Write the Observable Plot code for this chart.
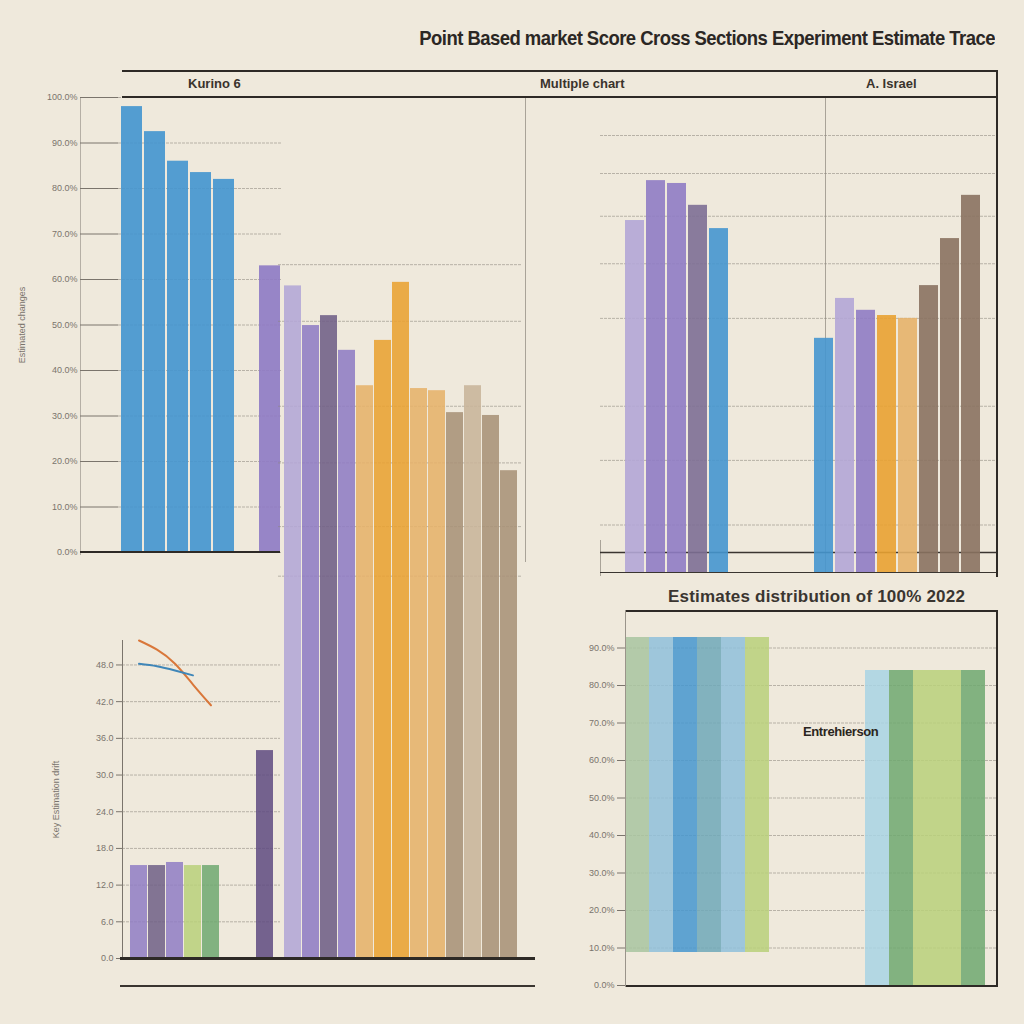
<!DOCTYPE html>
<html><head><meta charset="utf-8">
<script src="https://cdn.jsdelivr.net/npm/d3@7"></script>
<script src="https://cdn.jsdelivr.net/npm/@observablehq/plot@0.6"></script>
<style>
html,body{margin:0;padding:0;background:#efe9dc;}
#root{position:relative;width:1024px;height:1024px;background:#efe9dc;overflow:hidden;font-family:"Liberation Sans",Arial,sans-serif;}
.ln{position:absolute;}
.txt{position:absolute;white-space:nowrap;color:#2a2622;}
</style></head>
<body><div id="root"></div>
<script>
// ---------- text ----------
const mainTitle = "Point Based market Score Cross Sections Experiment Estimate Trace";
const panelTitles = ["Kurino 6", "Multiple chart", "A. Israel"];
const lowerTitle = "Estimates distribution of 100% 2022";
const lowerNote = "Entrehierson";
const axisLabelA = "Estimated changes";
const axisLabelD = "Key Estimation drift";

// ---------- palette (series names) ----------
const seriesNames  = ["Cobalt","Lilac","Iris","Mauve","Dusk","Ink","Amber","Apricot","Umber","Fawn","Sand","Sky","Lagoon","Sage","Citron","Fern","Mist"];
const seriesColors = ["#4596cf","#b3a6d6","#8f7cc4","#6f5f86","#7d6f95","#5e4a80","#e9a232","#e6b26a","#8a7260","#a89278","#c8b49a","#8fc0da","#6fa8b8","#a8c4a0","#b9d07a","#6fa870","#a8d4e4"];

// ---------- panel A: top-left ----------
const aDomain = ["A1","A2","A3","A4","A5","·","A6"];
const aCats   = ["A1","A2","A3","A4","A5","A6"];
const aValues = [98, 92.5, 86, 83.5, 82, 63];
const aSeries = ["Cobalt","Cobalt","Cobalt","Cobalt","Cobalt","Iris"];
const aTicks  = [0, 10, 20, 30, 40, 50, 60, 70, 80, 90, 100];

// ---------- panel B: middle ----------
const bCats   = ["B1","B2","B3","B4","B5","B6","B7","B8","B9","B10","B11","B12","B13"];
const bValues = [95, 89.4, 90.8, 85.9, 80.9, 87.3, 95.5, 80.5, 80.2, 77.1, 80.9, 76.7, 68.9];
const bSeries = ["Lilac","Iris","Mauve","Iris","Apricot","Amber","Amber","Apricot","Apricot","Fawn","Sand","Fawn","Fawn"];
const bGrid   = [98, 90, 78, 70, 61, 54];

// ---------- panel C: top-right ----------
const cDomain = ["C1","C2","C3","C4","C5","·1","·2","·3","·4","C6","C7","C8","C9","C10","C11","C12","C13"];
const cCats   = ["C1","C2","C3","C4","C5","C6","C7","C8","C9","C10","C11","C12","C13"];
const cValues = [74.1, 82.5, 81.9, 77.3, 72.4, 49.3, 57.7, 55.2, 54.1, 53.5, 60.4, 70.3, 79.4];
const cSeries = ["Lilac","Iris","Iris","Dusk","Cobalt","Cobalt","Lilac","Iris","Amber","Apricot","Umber","Umber","Umber"];
const cGrid   = [92, 84, 75, 65, 53.5, 35, 23.6, 10];

// ---------- panel D: bottom-left ----------
const dDomain = ["D1","D2","D3","D4","D5","·1","·2","D6"];
const dCats   = ["D1","D2","D3","D4","D5","D6"];
const dValues = [15.2, 15.2, 15.7, 15.2, 15.2, 34.0];
const dSeries = ["Iris","Mauve","Iris","Citron","Fern","Ink"];
const dLineCats  = ["D1","D2","D3","D4","D5"];
const dLineOrange = [52, 50.5, 48.2, 44.8, 41.4];
const dLineBlue   = [48.2, 47.8, 47.1, 46.3];
const dTicks = [0, 6, 12, 18, 24, 30, 36, 42, 48];

// ---------- panel E: bottom-right ----------
const eDomain = ["E1","E2","E3","E4","E5","E6","·1","·2","·3","·4","E7","E8","E9","E10","E11"];
const eCats   = ["E1","E2","E3","E4","E5","E6","E7","E8","E9","E10","E11"];
const eLow    = [8.8, 8.8, 8.8, 8.8, 8.8, 8.8, 0, 0, 0, 0, 0];
const eHigh   = [92.8, 92.8, 92.8, 92.8, 92.8, 92.8, 84, 84, 84, 84, 84];
const eSeries = ["Sage","Sky","Cobalt","Lagoon","Sky","Citron","Mist","Fern","Citron","Citron","Fern"];
const eTicks  = [0, 10, 20, 30, 40, 50, 60, 70, 80, 90];

// ---------- helpers ----------
const root = document.getElementById("root");
function place(el, left, top) {
  el.style.position = "absolute"; el.style.left = left + "px"; el.style.top = top + "px";
  root.appendChild(el); return el;
}
function line(left, top, w, h, color) {
  const d = document.createElement("div"); d.className = "ln";
  d.style.left = left + "px"; d.style.top = top + "px"; d.style.width = w + "px"; d.style.height = h + "px";
  d.style.background = color; root.appendChild(d);
}
function text(str, left, top, css) {
  const d = document.createElement("div"); d.className = "txt"; d.textContent = str;
  d.style.left = left + "px"; d.style.top = top + "px"; Object.assign(d.style, css || {});
  root.appendChild(d); return d;
}
const color = {type: "ordinal", domain: seriesNames, range: seriesColors};
const baseStyle = {background: "transparent", fontFamily: "Liberation Sans, Arial, sans-serif", fontSize: "9px", color: "#7a746c", overflow: "visible"};
const gridStyle = {stroke: "#8a857c", strokeOpacity: 0.55, strokeDasharray: "3,1"};
const rows = (cats, vals, series) => cats.map((c, i) => ({cat: c, value: vals[i], series: series[i]}));

// ---------- background frame lines (behind plots) ----------
line(80, 97, 1, 458, "#b5afa5");
line(525, 97, 1, 465, "#a9a398");
line(825, 97, 1, 476, "#a9a398");
line(600, 540, 1, 36, "#a9a398");

// ---------- panel A ----------
place(Plot.plot({
  width: 290, height: 475, marginTop: 7, marginBottom: 13, marginLeft: 118, marginRight: 8,
  style: baseStyle,
  x: {domain: aDomain, axis: null, paddingInner: 0.1, paddingOuter: 0},
  y: {domain: [0, 100], ticks: aTicks, tickSize: 38, tickFormat: d => d.toFixed(1) + "%", label: axisLabelA, labelAnchor: "center", labelOffset: 100, labelArrow: "none"},
  color,
  marks: [
    Plot.gridY(aTicks, gridStyle),
    Plot.barY(rows(aCats, aValues, aSeries), {x: "cat", y: "value", fill: "series", fillOpacity: 0.92})
  ]
}), 0, 90);

// ---------- panel B ----------
place(Plot.plot({
  width: 255, height: 728, marginTop: 10, marginBottom: 10, marginLeft: 3, marginRight: 8,
  style: baseStyle,
  x: {domain: bCats, axis: null, paddingInner: 0.06, paddingOuter: 0},
  y: {domain: [0, 100], axis: null},
  color,
  marks: [
    Plot.gridY(bGrid, gridStyle),
    Plot.barY(rows(bCats, bValues, bSeries), {x: "cat", y: "value", fill: "series", fillOpacity: 0.88})
  ]
}), 275, 240);

// ---------- panel C ----------
place(Plot.plot({
  width: 400, height: 490, marginTop: 7, marginBottom: 8, marginLeft: 20, marginRight: 14,
  style: baseStyle,
  x: {domain: cDomain, axis: null, paddingInner: 0.08, paddingOuter: 0},
  y: {domain: [0, 100], axis: null},
  color,
  marks: [
    Plot.gridY(cGrid, {...gridStyle, insetLeft: -20, insetRight: -11}),
    Plot.ruleY([4.2], {stroke: "#3a3530", strokeWidth: 1.5, insetLeft: -20, insetRight: -11}),
    Plot.barY(rows(cCats, cValues, cSeries), {x: "cat", y: "value", fill: "series", fillOpacity: 0.9}),
    Plot.ruleY([0], {stroke: "#3a3530", strokeWidth: 1, insetLeft: -20, insetRight: -11})
  ]
}), 600, 90);

// ---------- panel D ----------
place(Plot.plot({
  width: 265, height: 345, marginTop: 15, marginBottom: 12, marginLeft: 102, marginRight: 5,
  style: baseStyle,
  x: {domain: dDomain, axis: null, paddingInner: 0.06, paddingOuter: 0.35},
  y: {domain: [0, 52], ticks: dTicks, line: true, tickSize: 6, tickFormat: d => d.toFixed(1), label: axisLabelD, labelAnchor: "center", labelOffset: 70, labelArrow: "none"},
  color,
  marks: [
    Plot.gridY(dTicks, gridStyle),
    Plot.barY(rows(dCats, dValues, dSeries), {x: "cat", y: "value", fill: "series", fillOpacity: 0.85}),
    Plot.line(dLineOrange.map((v, i) => ({cat: dLineCats[i], value: v})), {x: "cat", y: "value", stroke: "#d9773a", strokeWidth: 2, curve: "natural"}),
    Plot.line(dLineBlue.map((v, i) => ({cat: dLineCats[i], value: v})), {x: "cat", y: "value", stroke: "#3f86b8", strokeWidth: 2, curve: "natural"})
  ]
}), 20, 625);

// ---------- panel E ----------
place(Plot.plot({
  width: 470, height: 385, marginTop: 5, marginBottom: 5, marginLeft: 95, marginRight: 15,
  style: baseStyle,
  x: {domain: eDomain, axis: null, padding: 0},
  y: {domain: [0, 100], ticks: eTicks, tickSize: 8, tickFormat: d => d.toFixed(1) + "%"},
  color,
  marks: [
    Plot.gridY(eTicks, {...gridStyle, insetRight: -12}),
    Plot.barY(eCats.map((c, i) => ({cat: c, low: eLow[i], high: eHigh[i], series: eSeries[i]})), {x: "cat", y1: "low", y2: "high", fill: "series", fillOpacity: 0.85})
  ]
}), 530, 605);

// ---------- frame lines (front) ----------
line(122, 70, 875, 2, "#2e2a26");
line(122, 96, 875, 2, "#2e2a26");
line(996, 70, 2, 507, "#2e2a26");
line(80, 551, 200, 2, "#2e2a26");
line(120, 957, 415, 3, "#2e2a26");
line(120, 985, 415, 2, "#3a3530");
line(625, 610, 372, 2, "#2e2a26");
line(996, 610, 2, 377, "#2e2a26");
line(625, 985, 372, 2, "#2e2a26");
line(625, 610, 1, 377, "#9a948a");

// ---------- texts ----------
const t = text(mainTitle, 0, 26, {width: "995px", textAlign: "right", fontFamily: "'Liberation Sans',Arial,sans-serif", fontWeight: "bold", fontSize: "21px", letterSpacing: "-0.6px", color: "#2b2724", transformOrigin: "right center", transform: "scaleX(0.88)"});
text(panelTitles[0], 188, 76, {fontWeight: "bold", fontSize: "13px", color: "#3a332c"});
text(panelTitles[1], 540, 76, {fontWeight: "bold", fontSize: "13px", color: "#3a332c"});
text(panelTitles[2], 866, 76, {fontWeight: "bold", fontSize: "13px", color: "#3a332c"});
text(lowerTitle, 668, 587, {fontWeight: "bold", fontSize: "17px", color: "#3a3530", letterSpacing: "0.2px"});
text(lowerNote, 803, 724, {fontWeight: "bold", fontSize: "13px", color: "#2a2520", letterSpacing: "-0.4px"});
</script>
</body></html>
